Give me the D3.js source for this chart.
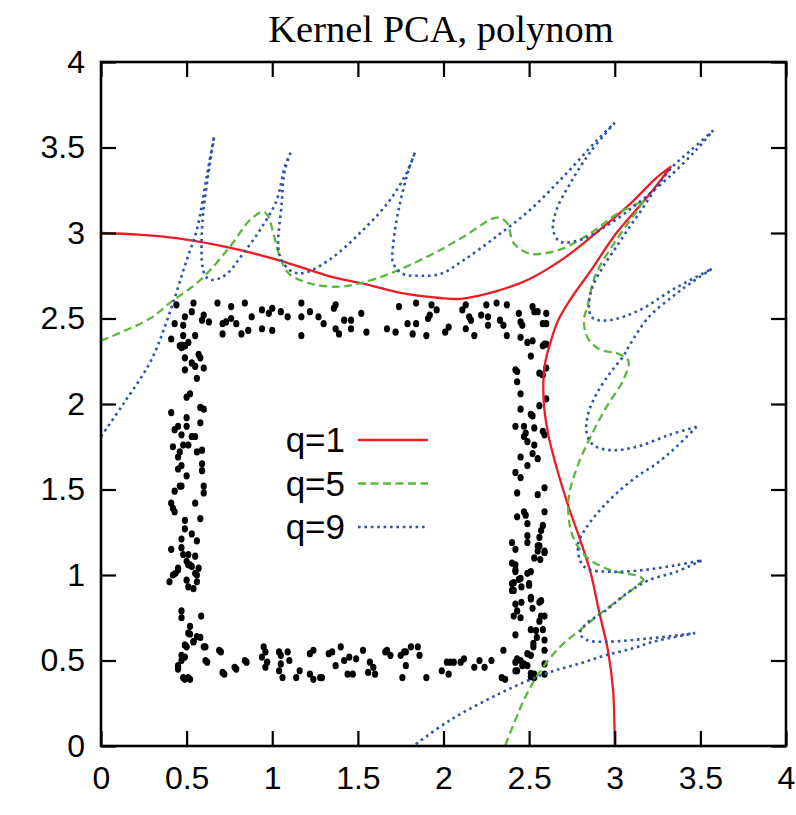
<!DOCTYPE html>
<html>
<head>
<meta charset="utf-8">
<script src="https://cdn.jsdelivr.net/npm/d3@7"></script>
<style>
  body { margin: 0; background: #fff; }
  svg { display: block; }
  .tick text { font-family: "Liberation Sans", Arial, sans-serif; }
</style>
</head>
<body>
<svg width="796" height="815"></svg>
<script>
'use strict';

// points of the noisy square, split by side
var topEdge = [
  [0.44,2.58],[0.54,2.59],[0.68,2.59],[0.76,2.57],[0.84,2.59],[0.94,2.55],[1.00,2.56],[1.05,2.54],[1.17,2.59],
  [1.37,2.58],[1.36,2.56],[1.74,2.57],[1.84,2.59],[1.93,2.58],[1.96,2.55],[2.13,2.58],[2.25,2.58],[2.31,2.59],
  [2.37,2.58],[2.52,2.57],[2.60,2.53],[0.49,2.51],[0.53,2.54],[0.60,2.52],[0.59,2.49],[0.63,2.48],[0.71,2.47],
  [0.73,2.48],[0.76,2.50],[0.79,2.47],[0.88,2.51],[0.98,2.53],[1.09,2.51],[1.17,2.51],[1.22,2.54],[1.27,2.51],
  [1.30,2.47],[1.42,2.49],[1.46,2.49],[1.52,2.53],[0.43,2.47],[0.48,2.46],[0.48,2.40],[0.55,2.40],[0.71,2.41],
  [0.82,2.41],[0.86,2.43],[0.94,2.44],[1.00,2.43],[1.17,2.40],[1.37,2.44],[1.39,2.41],[1.46,2.44],[1.55,2.42],
  [1.67,2.44],[1.72,2.42],[1.79,2.47],[1.82,2.41],[1.84,2.47],[1.91,2.50],[1.92,2.52],[1.90,2.40],[2.01,2.42],
  [2.03,2.45],[2.13,2.44],[2.18,2.40],[2.11,2.55],[2.15,2.51],[2.16,2.49],[2.22,2.52],[2.26,2.51],[2.26,2.46],
  [2.33,2.49],[2.35,2.46],[2.37,2.40],[2.44,2.53],[2.45,2.48],[2.46,2.46],[2.53,2.54],[2.55,2.54],[2.58,2.47],
  [2.60,2.47],[2.45,2.39],[2.52,2.37],[0.41,2.38],[0.51,2.36],[0.49,2.34],[0.47,2.33],[2.60,2.35]
];

var bottomEdge = [
  [0.52,0.655],[0.54,0.61],[0.58,0.635],[0.49,0.59],[0.50,0.58],[0.61,0.58],[0.49,0.52],[0.47,0.50],[0.45,0.46],
  [0.45,0.45],[0.62,0.49],[0.70,0.55],[0.49,0.39],[0.52,0.39],[0.72,0.42],[0.79,0.45],[0.85,0.49],[0.95,0.58],
  [0.96,0.55],[0.94,0.52],[0.97,0.49],[0.96,0.46],[1.04,0.55],[1.05,0.53],[1.05,0.48],[1.04,0.44],[1.06,0.40],
  [1.09,0.55],[1.10,0.50],[1.14,0.40],[1.16,0.44],[1.22,0.54],[1.24,0.56],[1.22,0.42],[1.24,0.39],[1.28,0.40],
  [1.29,0.40],[1.33,0.54],[1.35,0.55],[1.37,0.47],[1.40,0.58],[1.42,0.50],[1.45,0.52],[1.44,0.42],[1.47,0.42],
  [1.49,0.51],[1.53,0.56],[1.57,0.49],[1.56,0.43],[1.59,0.46],[1.60,0.42],[1.66,0.55],[1.67,0.56],[1.69,0.53],
  [1.75,0.53],[1.77,0.55],[1.78,0.55],[1.78,0.47],[1.81,0.58],[1.85,0.58],[1.86,0.53],[1.76,0.40],[1.90,0.40],
  [1.99,0.44],[2.02,0.49],[2.04,0.49],[2.06,0.49],[2.03,0.42],[2.10,0.49],[2.12,0.51],[2.18,0.46],[2.21,0.50],
  [2.24,0.46],[2.28,0.50],[2.35,0.56],[2.36,0.39],[2.43,0.44],[2.45,0.50],[2.47,0.48],[2.49,0.47],[2.51,0.53],
  [2.53,0.42],[2.53,0.40]
];

var leftEdge = [
  [0.46,2.34],[0.49,2.34],[0.47,2.345],[0.49,2.27],[0.53,2.24],[0.57,2.29],[0.58,2.27],[0.55,2.22],[0.60,2.21],
  [0.49,2.20],[0.56,2.15],[0.52,2.06],[0.50,2.04],[0.41,1.95],[0.45,1.87],[0.50,1.92],[0.50,1.87],[0.58,1.89],
  [0.47,1.82],[0.43,1.85],[0.53,1.81],[0.55,1.81],[0.42,1.75],[0.48,1.76],[0.51,1.76],[0.46,1.72],[0.45,1.69],
  [0.47,1.64],[0.45,1.62],[0.56,1.72],[0.59,1.73],[0.59,1.65],[0.59,1.61],[0.50,1.58],[0.43,1.49],[0.46,1.52],
  [0.47,1.52],[0.60,1.52],[0.60,1.48],[0.41,1.42],[0.42,1.39],[0.43,1.37],[0.55,1.42],[0.49,1.32],[0.58,1.33],
  [0.49,1.27],[0.53,1.24],[0.56,1.20],[0.47,1.21],[0.41,1.15],[0.47,1.16],[0.51,1.12],[0.55,1.11],[0.48,1.12],
  [0.45,1.03],[0.51,1.06],[0.53,1.05],[0.57,1.04],[0.42,1.00],[0.56,1.00],[0.58,1.98],[0.60,1.97],
  [0.40,0.96],[0.435,1.01],[0.45,1.04],[0.50,1.08],[0.52,1.06],[0.55,1.01],[0.50,0.97],[0.56,0.96],[0.54,0.92],
  [0.51,0.93],[0.47,0.79],[0.47,0.75],[0.585,0.76],[0.52,0.70],[0.51,0.66],[0.54,0.61],[0.49,0.59],[0.56,0.64],
  [0.60,0.58],[0.47,0.53],[0.61,0.50],[0.45,0.47],[0.48,0.40],[0.51,0.40],[0.69,0.56],[0.71,0.43],[0.78,0.46],
  [0.84,0.50]
];

var rightEdge = [
  [2.49,2.36],[2.51,2.28],[2.58,2.34],[2.59,2.35],[2.60,2.21],[2.56,2.18],[2.58,2.17],[2.42,2.20],[2.43,2.19],
  [2.43,2.13],[2.45,2.06],[2.60,2.03],[2.45,1.97],[2.51,1.94],[2.52,1.93],[2.56,1.99],[2.42,1.87],[2.47,1.87],
  [2.48,1.83],[2.47,1.81],[2.49,1.78],[2.53,1.86],[2.59,1.82],[2.58,1.84],[2.53,1.76],[2.55,1.68],[2.52,1.71],
  [2.45,1.69],[2.49,1.64],[2.42,1.60],[2.45,1.57],[2.43,1.48],[2.55,1.47],[2.59,1.51],[2.47,1.37],[2.48,1.35],
  [2.43,1.34],[2.59,1.37],[2.58,1.29],[2.57,1.26],[2.56,1.22],[2.49,1.30],[2.49,1.23],[2.40,1.19],[2.42,1.15],
  [2.56,1.17],[2.55,1.14],[2.53,1.10],[2.59,1.14],[2.42,1.06],[2.42,1.02],[2.45,0.98],[2.49,1.01],[2.50,0.94],
  [2.40,0.95],[2.41,0.91],[2.51,0.86],[2.57,0.85],
  [2.41,0.955],[2.44,0.975],[2.455,0.93],[2.50,0.95],[2.40,0.91],[2.42,0.83],[2.455,0.84],[2.43,0.79],[2.41,0.76],
  [2.45,0.75],[2.51,0.87],[2.52,0.805],[2.56,0.84],[2.42,0.65],[2.51,0.68],[2.54,0.675],[2.545,0.635],[2.56,0.73],
  [2.59,0.76],[2.57,0.76],[2.58,0.68],[2.59,0.62],[2.525,0.60],[2.525,0.58],[2.59,0.56],[2.49,0.54],[2.43,0.51],
  [2.42,0.49],[2.46,0.47],[2.42,0.44],[2.59,0.48],[2.51,0.425],[2.51,0.405],[2.59,0.42],[2.34,0.40],[2.40,1.07],
  [2.42,1.03],[2.51,1.02],[2.49,1.19],[2.55,1.17],[2.565,1.09],[2.59,1.13]
];

// contour lines, each split into pieces at its sharp tips
var curveQ1 = [
  [[0,3.0],[0.22,2.99],[0.44,2.97],[0.77,2.91],[1.04,2.84],[1.36,2.74],[1.55,2.70],[1.75,2.65],[1.98,2.62],
   [2.10,2.615],[2.31,2.66],[2.50,2.73],[2.70,2.85],[2.89,3.00],[3.09,3.17],[3.24,3.32],[3.33,3.39]],
  [[3.33,3.39],[3.19,3.21],[3.01,3.00],[2.86,2.78],[2.74,2.61],[2.67,2.49],[2.64,2.41],[2.59,2.22],[2.585,2.02],
   [2.61,1.83],[2.66,1.63],[2.73,1.40],[2.80,1.20],[2.86,1.01],[2.91,0.78],[2.96,0.56],[2.99,0.33],[3.00,0]]
];

var curveQ5 = [
  [[0,2.37],[0.286,2.50],[0.40,2.59],[0.58,2.725],[0.753,2.92],[0.87,3.076],[0.947,3.125],[0.975,3.10],
   [1.006,3.00],[1.045,2.86],[1.10,2.76],[1.24,2.70],[1.395,2.686],[1.51,2.705],[1.706,2.77],[1.98,2.90],
   [2.12,2.98],[2.31,3.09],[2.37,3.06],[2.41,2.94],[2.50,2.88],[2.58,2.88],[2.70,2.91],[2.86,3.00],[3.01,3.11],
   [3.17,3.19]],
  [[3.17,3.19],[3.13,3.13],[3.01,2.96],[2.89,2.76],[2.84,2.57],[2.82,2.49],[2.84,2.39],[2.91,2.32],[3.03,2.29],
   [3.08,2.25],[3.05,2.14],[2.95,1.98],[2.86,1.81],[2.78,1.63],[2.73,1.44],[2.75,1.24],[2.83,1.11],[2.97,1.03],
   [3.15,0.99],[3.17,0.97]],
  [[3.17,0.97],[3.07,0.89],[2.91,0.77],[2.80,0.68],[2.68,0.58],[2.56,0.43],[2.47,0.27],[2.36,0]]
];

var curveQ9 = [
  [[0,1.81],[0.13,2.00],[0.29,2.25],[0.393,2.51],[0.50,2.84],[0.56,3.02],[0.607,3.27],[0.63,3.40],[0.66,3.56]],
  [[0.66,3.56],[0.62,3.30],[0.595,3.10],[0.587,2.90],[0.595,2.79],[0.617,2.74],[0.656,2.725],[0.733,2.76],
   [0.83,2.88],[0.93,3.02],[1.025,3.19],[1.074,3.39],[1.107,3.47]],
  [[1.107,3.47],[1.07,3.35],[1.055,3.17],[1.035,2.92],[1.055,2.84],[1.123,2.77],[1.20,2.77],[1.356,2.86],
   [1.512,3.00],[1.67,3.17],[1.784,3.35],[1.833,3.47]],
  [[1.833,3.47],[1.80,3.38],[1.745,3.17],[1.707,2.94],[1.707,2.82],[1.765,2.76],[1.862,2.75],[1.98,2.76],
   [2.116,2.84],[2.31,2.98],[2.505,3.135],[2.70,3.33],[2.894,3.54],[3.00,3.645]],
  [[3.00,3.645],[2.855,3.47],[2.74,3.29],[2.66,3.135],[2.64,3.02],[2.68,2.95],[2.80,2.96],[2.95,3.04],
   [3.13,3.17],[3.32,3.33],[3.48,3.49],[3.575,3.60]],
  [[3.575,3.60],[3.44,3.48],[3.34,3.39],[3.245,3.27],[3.167,3.15],[3.09,3.04],[3.01,2.92],[2.93,2.80],
   [2.865,2.67],[2.85,2.55],[2.875,2.50],[2.97,2.49],[3.147,2.55],[3.34,2.67],[3.566,2.79]],
  [[3.566,2.79],[3.44,2.705],[3.34,2.63],[3.20,2.51],[3.09,2.35],[3.05,2.28],[2.972,2.18],[2.894,2.06],
   [2.846,1.945],[2.836,1.83],[2.875,1.76],[2.972,1.73],[3.128,1.75],[3.32,1.82],[3.478,1.867]],
  [[3.478,1.867],[3.36,1.75],[3.245,1.652],[3.128,1.575],[3.01,1.477],[2.914,1.38],[2.836,1.28],[2.787,1.185],
   [2.797,1.087],[2.836,1.038],[2.972,1.019],[3.167,1.029],[3.36,1.058],[3.507,1.085]],
  [[3.507,1.085],[3.36,1.019],[3.2,0.97],[3.07,0.893],[2.952,0.795],[2.836,0.717],[2.797,0.659],[2.836,0.62],
   [2.952,0.61],[3.108,0.62],[3.264,0.636],[3.47,0.66]],
  [[3.47,0.66],[3.225,0.61],[3.108,0.571],[2.952,0.532],[2.797,0.483],[2.60,0.425],[2.33,0.308],[2.04,0.152],
   [1.824,0]]
];

var legendLabels = ['q=1', 'q=5', 'q=9'];
var axisTicks = [0, 0.5, 1, 1.5, 2, 2.5, 3, 3.5, 4];

var svg = d3.select('svg');
var plotLeft = 101, plotRight = 786, plotTop = 62, plotBottom = 746;

var x = d3.scaleLinear().domain([0, 4]).range([plotLeft, plotRight]);
var y = d3.scaleLinear().domain([0, 4]).range([plotBottom, plotTop]);

svg.append('defs').append('clipPath')
  .attr('id', 'plot')
  .append('rect')
  .attr('x', plotLeft).attr('y', plotTop)
  .attr('width', plotRight - plotLeft).attr('height', plotBottom - plotTop);

// title
svg.append('text')
  .attr('x', 441)
  .attr('y', 42)
  .attr('text-anchor', 'middle')
  .style('font-family', '"Liberation Serif", "Times New Roman", serif')
  .style('font-size', '38.5px')
  .text('Kernel PCA, polynom');

// points
var points = topEdge.concat(bottomEdge, leftEdge, rightEdge);
svg.append('g')
  .selectAll('ellipse')
  .data(points)
  .enter()
  .append('ellipse')
  .attr('cx', function (d) { return x(d[0]); })
  .attr('cy', function (d) { return y(d[1]); })
  .attr('rx', 3.1)
  .attr('ry', 3.6)
  .attr('fill', '#000');

var line = d3.line()
  .x(function (d) { return x(d[0]); })
  .y(function (d) { return y(d[1]); })
  .curve(d3.curveCatmullRom.alpha(0.5));

var styles = [
  { color: '#ec1c24', dash: null, width: 2.3 },
  { color: '#5cb83c', dash: '8,4.5', width: 2.3 },
  { color: '#2f53a8', dash: '2.6,3.8', width: 2.6 }
];
var curves = [curveQ1, curveQ5, curveQ9];

var curveGroup = svg.append('g').attr('clip-path', 'url(#plot)');
curves.forEach(function (pieces, i) {
  curveGroup.append('path')
    .attr('d', pieces.map(function (p) { return line(p); }).join(''))
    .attr('fill', 'none')
    .attr('stroke', styles[i].color)
    .attr('stroke-width', styles[i].width)
    .attr('stroke-dasharray', styles[i].dash);
});

// legend
var legend = svg.append('g')
  .selectAll('g')
  .data(legendLabels)
  .enter()
  .append('g')
  .attr('transform', function (d, i) { return 'translate(0,' + (440 + i * 43.5) + ')'; });

legend.append('text')
  .attr('x', 345)
  .attr('dy', '0.35em')
  .attr('text-anchor', 'end')
  .style('font-family', '"Liberation Sans", Arial, sans-serif')
  .style('font-size', '35px')
  .text(function (d) { return d; });

legend.append('line')
  .attr('x1', 358).attr('x2', 428)
  .attr('stroke', function (d, i) { return styles[i].color; })
  .attr('stroke-width', function (d, i) { return styles[i].width; })
  .attr('stroke-dasharray', function (d, i) { return styles[i].dash; });

// axes, ticks pointing inwards on all four sides
var fmt = d3.format('');
var tickLen = 15;

function styleAxis(g) {
  g.select('.domain').remove();
  g.selectAll('.tick line').attr('stroke', '#000').attr('stroke-width', 2.2);
  g.selectAll('.tick text').style('font-size', '32px').attr('fill', '#000');
}

svg.append('g')
  .attr('transform', 'translate(0,' + plotBottom + ')')
  .call(d3.axisBottom(x).tickValues(axisTicks).tickFormat(fmt).tickSize(-tickLen).tickPadding(20))
  .call(styleAxis);

svg.append('g')
  .attr('transform', 'translate(' + plotLeft + ',0)')
  .call(d3.axisLeft(y).tickValues(axisTicks).tickFormat(fmt).tickSize(-tickLen).tickPadding(16))
  .call(styleAxis);

svg.append('g')
  .attr('transform', 'translate(0,' + plotTop + ')')
  .call(d3.axisTop(x).tickValues(axisTicks).tickFormat('').tickSize(-tickLen))
  .call(styleAxis);

svg.append('g')
  .attr('transform', 'translate(' + plotRight + ',0)')
  .call(d3.axisRight(y).tickValues(axisTicks).tickFormat('').tickSize(-tickLen))
  .call(styleAxis);

svg.append('rect')
  .attr('x', plotLeft).attr('y', plotTop)
  .attr('width', plotRight - plotLeft).attr('height', plotBottom - plotTop)
  .attr('fill', 'none')
  .attr('stroke', '#000')
  .attr('stroke-width', 2.6);
</script>
</body>
</html>
